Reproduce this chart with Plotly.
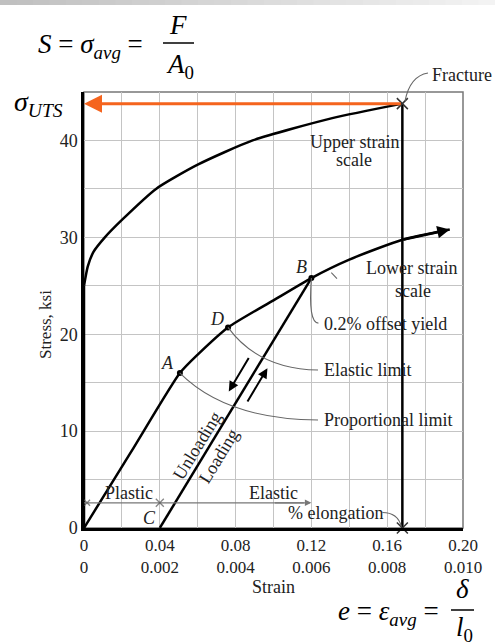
import plotly.graph_objects as go

# ---------------- data ----------------
upper_tick_text = ["0", "0.04", "0.08", "0.12", "0.16", "0.20"]
lower_tick_text = ["0", "0.002", "0.004", "0.006", "0.008", "0.010"]
upper_tick_vals = [0, 0.04, 0.08, 0.12, 0.16, 0.20]
stress_tick_text = ["0", "10", "20", "30", "40"]
stress_tick_vals = [0, 10, 20, 30, 40]

# upper strain scale curve (strain, ksi)
upper_strain = [0, 0.0, 0.002, 0.005, 0.011, 0.02, 0.038, 0.06, 0.089, 0.131, 0.168]
upper_stress = [0, 25, 27, 28.5, 30, 31.8, 35, 37.5, 40, 42.3, 43.8]

# lower strain scale curve
lower_strain = [0, 0.00125, 0.00253, 0.003, 0.0038, 0.005, 0.006, 0.007, 0.0084, 0.00965]
lower_stress = [0, 7.9, 16.0, 17.9, 20.7, 23.5, 25.8, 27.7, 29.75, 30.8]

# key points on lower scale
pt_names = ["A", "D", "B"]
pt_strain = [0.00253, 0.0038, 0.006]
pt_stress = [16.0, 20.7, 25.8]
C_strain = 0.002
fracture_strain = 0.168
fracture_stress = 43.8

FONT = "Liberation Serif"
L, R, T, B = 84, 32, 92, 116
W, H = 495, 644
PW, PH = W - L - R, H - T - B


def pxx(px):
    return (px - L) / PW


def pxy(py):
    return (H - B - py) / PH


fig = go.Figure()

fig.add_trace(go.Scatter(x=upper_strain[1:], y=upper_stress[1:], mode="lines",
                         line=dict(color="black", width=2.5, shape="spline", smoothing=0.6),
                         xaxis="x", yaxis="y", hoverinfo="skip"))
fig.add_trace(go.Scatter(x=upper_strain[:2], y=upper_stress[:2], mode="lines",
                         line=dict(color="black", width=2.5), xaxis="x", yaxis="y"))
fig.add_trace(go.Scatter(x=lower_strain, y=lower_stress, mode="lines",
                         line=dict(color="black", width=2.5, shape="spline", smoothing=0.6),
                         xaxis="x2", yaxis="y"))
fig.add_trace(go.Scatter(x=[C_strain, pt_strain[2]], y=[0, pt_stress[2]], mode="lines",
                         line=dict(color="black", width=2.5), xaxis="x2", yaxis="y"))
fig.add_trace(go.Scatter(x=[fracture_strain, fracture_strain], y=[0, fracture_stress], mode="lines",
                         line=dict(color="black", width=2.5), xaxis="x", yaxis="y"))
# plastic / elastic dimension line
fig.add_trace(go.Scatter(x=[0, 0.0058], y=[2.6, 2.6], mode="lines",
                         line=dict(color="#777", width=1.3), xaxis="x2", yaxis="y"))
fig.add_trace(go.Scatter(x=[0.00008, C_strain], y=[2.6, 2.6], mode="markers",
                         marker=dict(symbol="x-thin", size=[6, 8], line=dict(color="#555", width=1.3)),
                         xaxis="x2", yaxis="y"))
fig.add_trace(go.Scatter(x=pt_strain, y=pt_stress, mode="markers",
                         marker=dict(color="black", size=6), xaxis="x2", yaxis="y"))
fig.add_trace(go.Scatter(x=[fracture_strain, fracture_strain], y=[fracture_stress, 0], mode="markers",
                         marker=dict(symbol="x-thin", size=11, line=dict(color="#333", width=1.5)),
                         xaxis="x", yaxis="y", cliponaxis=False))

ann = []
ann.append(dict(x=0, y=fracture_stress, ax=fracture_strain, ay=fracture_stress, xref="x", yref="y",
                axref="x", ayref="y", showarrow=True, arrowhead=2, arrowsize=1.2, arrowwidth=3,
                arrowcolor="#f5641e", text=""))
ann.append(dict(x=lower_strain[-1], y=lower_stress[-1], ax=lower_strain[-2], ay=lower_stress[-2],
                xref="x2", yref="y", axref="x2", ayref="y", showarrow=True, arrowhead=2,
                arrowsize=1, arrowwidth=2.5, arrowcolor="black", text=""))
ann.append(dict(x=0.006, y=2.6, ax=0.005, ay=2.6, xref="x2", yref="y", axref="x2", ayref="y",
                showarrow=True, arrowhead=2, arrowsize=1, arrowwidth=1.3, arrowcolor="#777", text=""))
ann.append(dict(x=0.00382, y=14.1, ax=0.00437, ay=17.7, xref="x2", yref="y", axref="x2", ayref="y",
                showarrow=True, arrowhead=2, arrowsize=1, arrowwidth=2, arrowcolor="black", text=""))
ann.append(dict(x=0.00484, y=16.5, ax=0.00429, ay=12.9, xref="x2", yref="y", axref="x2", ayref="y",
                showarrow=True, arrowhead=2, arrowsize=1, arrowwidth=2, arrowcolor="black", text=""))


def txt(x, y, s, size=18, xref="x", yref="y", xanchor="center", angle=0, italic=False):
    return dict(x=x, y=y, xref=xref, yref=yref, text=(f"<i>{s}</i>" if italic else s),
                showarrow=False, xanchor=xanchor, yanchor="middle", textangle=angle,
                font=dict(family=FONT, size=size, color="#222"))


ann += [
    txt(0.1426, 39.85, "Upper strain"),
    txt(0.1426, 37.95, "scale"),
    txt(0.1728, 26.8, "Lower strain"),
    txt(0.1738, 24.5, "scale"),
    txt(0.1258, 21.1, "0.2% offset yield", xanchor="left"),
    txt(0.1258, 16.3, "Elastic limit", xanchor="left"),
    txt(0.1258, 11.15, "Proportional limit", xanchor="left"),
    txt(0.024, 3.6, "Plastic"),
    txt(0.1, 3.6, "Elastic"),
    txt(0.1326, 1.5, "% elongation"),
    txt(0.0442, 17.05, "A", italic=True),
    txt(0.070, 21.6, "D", italic=True),
    txt(0.1147, 26.9, "B", italic=True),
    txt(0.0347, 1.05, "C", italic=True),
    txt(0.0595, 8.5, "Unloading", angle=-58.7),
    txt(0.0712, 7.4, "Loading", angle=-58.7),
    txt(pxx(430), pxy(75), "Fracture", xref="paper", yref="paper", xanchor="left"),
    txt(pxx(45), pxy(325), "Stress, ksi", size=17, xref="paper", yref="paper", angle=-90),
    txt(pxx(273), pxy(587), "Strain", xref="paper", yref="paper"),
]


def ftxt(px, py, s, size, xanchor="left"):
    return dict(x=pxx(px), y=pxy(py), xref="paper", yref="paper", text=s, showarrow=False,
                xanchor=xanchor, yanchor="middle", font=dict(family=FONT, size=size, color="black"))


ann += [
    ftxt(36, 46, "<i>S</i> = <i>σ</i><sub><i>avg</i></sub> =", 27),
    ftxt(178, 25, "<i>F</i>", 27, "center"),
    ftxt(180, 66, "<i>A</i><sub>0</sub>", 27, "center"),
    ftxt(12, 104, "<i>σ</i><sub><i>UTS</i></sub>", 28),
    ftxt(336, 613, "<i>e</i> = <i>ε</i><sub><i>avg</i></sub> =", 27),
    ftxt(462, 589, "<i>δ</i>", 27, "center"),
    ftxt(464, 629, "<i>l</i><sub>0</sub>", 27, "center"),
]

shapes = []
n = 30
for i in range(n):
    g = int(192 + (243 - 192) * i / (n - 1))
    shapes.append(dict(type="rect", xref="paper", yref="paper",
                       x0=pxx(W * i / n), x1=pxx(W * (i + 1) / n + 1),
                       y0=pxy(5), y1=pxy(0), line=dict(width=0),
                       fillcolor=f"rgb({g},{g},{g})"))
shapes.append(dict(type="line", xref="paper", yref="paper", x0=pxx(163), x1=pxx(194),
                   y0=pxy(43), y1=pxy(43), line=dict(color="black", width=1.5)))
shapes.append(dict(type="line", xref="paper", yref="paper", x0=pxx(451), x1=pxx(474),
                   y0=pxy(610), y1=pxy(610), line=dict(color="black", width=1.5)))
shapes.append(dict(type="rect", xref="paper", yref="paper", x0=0, x1=1, y0=0, y1=1,
                   line=dict(color="#777", width=1.5), layer="below"))
lead = dict(color="#666", width=1.1)
shapes += [
    dict(type="path", xref="x", yref="y", line=lead,
         path="M 0.0505,16 Q 0.075,11.2 0.1235,11.15"),
    dict(type="path", xref="x", yref="y", line=lead,
         path="M 0.076,20.7 Q 0.092,16.4 0.1235,16.3"),
    dict(type="path", xref="x", yref="y", line=lead,
         path="M 0.12,25.8 Q 0.1182,21.2 0.1237,21.15"),
    dict(type="path", xref="x", yref="y", line=lead,
         path="M 0.1305,26.35 L 0.1335,25.75"),
    dict(type="path", xref="x", yref="y", line=lead,
         path="M 0.1575,1.6 Q 0.1655,1.6 0.1675,0.15"),
    dict(type="path", xref="paper", yref="paper", line=lead,
         path=f"M {pxx(405)},{pxy(101)} Q {pxx(410)},{pxy(76)} {pxx(428)},{pxy(73)}"),
]

tick_text = [f"{u}<br>{l}" for u, l in zip(upper_tick_text, lower_tick_text)]
grid = dict(showgrid=True, gridcolor="#c4c4c4", gridwidth=1)

fig.update_layout(
    width=W, height=H, margin=dict(l=L, r=R, t=T, b=B),
    paper_bgcolor="white", plot_bgcolor="white", showlegend=False, hovermode=False,
    font=dict(family=FONT, size=17, color="#222"),
    xaxis=dict(range=[0, 0.2], tickmode="array", tickvals=upper_tick_vals, ticktext=tick_text,
               **grid, minor=dict(tick0=0, dtick=0.02, **grid), zeroline=False,
               showline=True, linecolor="black", linewidth=2.5, ticks="",
               tickfont=dict(family=FONT, size=17, color="#222")),
    xaxis2=dict(range=[0, 0.01], overlaying="x", visible=False),
    yaxis=dict(range=[0, 45], tickmode="array", tickvals=stress_tick_vals, ticktext=stress_tick_text,
               **grid, minor=dict(tick0=0, dtick=5, **grid), zeroline=False,
               showline=True, linecolor="black", linewidth=2.5, ticks="",
               tickfont=dict(family=FONT, size=18, color="#222")),
    annotations=ann, shapes=shapes,
)

fig.write_html("out.html", config={"displayModeBar": False},
               post_script="document.body.style.margin='0';document.body.style.overflow='hidden';")
